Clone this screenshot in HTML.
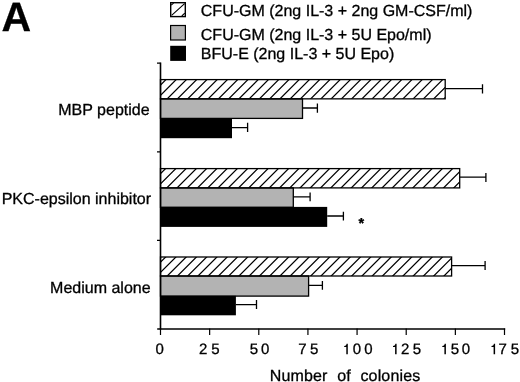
<!DOCTYPE html>
<html><head><meta charset="utf-8">
<style>
html,body{margin:0;padding:0;background:#fff;}
body{width:520px;height:382px;overflow:hidden;}
svg{display:block;}
svg{filter:grayscale(1);}
text{font-family:"Liberation Sans",sans-serif;fill:#000;stroke:#000;stroke-width:0.3px;text-rendering:geometricPrecision;}
</style></head><body>
<svg width="520" height="382" viewBox="0 0 520 382">
<rect width="520" height="382" fill="#fff"/>
<text x="1.6" y="30.5" font-size="41" font-weight="bold">A</text>
<rect x="170.7" y="2.7" width="14.6" height="13.9" fill="#fff" stroke="#000" stroke-width="1.4"/>
<path d="M171.6 15.4L184.6 3.6M171.2 5.2L173.6 3.2M181.8 16L184.8 13.2" stroke="#000" stroke-width="1.1" fill="none"/>
<rect x="170.6" y="25.5" width="14.8" height="14.5" fill="#b3b3b3" stroke="#000" stroke-width="1.2"/>
<rect x="170.2" y="45.8" width="15.8" height="15.1" fill="#000"/>
<text id="l1" x="200.8" y="15.9" font-size="16">CFU-GM (2ng IL-3 + 2ng GM-CSF/ml)</text>
<text id="l2" x="200.8" y="39.5" font-size="16">CFU-GM (2ng IL-3 + 5U Epo/ml)</text>
<text id="l3" x="200.8" y="59.1" font-size="16">BFU-E (2ng IL-3 + 5U Epo)</text>
<defs>
<clipPath id="c0"><rect x="160.5" y="79.6" width="284.70" height="19.25"/></clipPath>
<clipPath id="c1"><rect x="160.5" y="168.6" width="299.20" height="19.30"/></clipPath>
<clipPath id="c2"><rect x="160.5" y="257.0" width="291.10" height="19.00"/></clipPath>
</defs>
<path clip-path="url(#c0)" d="M135.45 99.85L156.70 78.60M145.70 99.85L166.95 78.60M155.95 99.85L177.20 78.60M166.20 99.85L187.45 78.60M176.45 99.85L197.70 78.60M186.70 99.85L207.95 78.60M196.95 99.85L218.20 78.60M207.20 99.85L228.45 78.60M217.45 99.85L238.70 78.60M227.70 99.85L248.95 78.60M237.95 99.85L259.20 78.60M248.20 99.85L269.45 78.60M258.45 99.85L279.70 78.60M268.70 99.85L289.95 78.60M278.95 99.85L300.20 78.60M289.20 99.85L310.45 78.60M299.45 99.85L320.70 78.60M309.70 99.85L330.95 78.60M319.95 99.85L341.20 78.60M330.20 99.85L351.45 78.60M340.45 99.85L361.70 78.60M350.70 99.85L371.95 78.60M360.95 99.85L382.20 78.60M371.20 99.85L392.45 78.60M381.45 99.85L402.70 78.60M391.70 99.85L412.95 78.60M401.95 99.85L423.20 78.60M412.20 99.85L433.45 78.60M422.45 99.85L443.70 78.60M432.70 99.85L453.95 78.60M442.95 99.85L464.20 78.60" stroke="#000" stroke-width="1.25" fill="none"/>
<rect x="160.5" y="98.85" width="142.00" height="19.55" fill="#b3b3b3" stroke="#000" stroke-width="1.3"/>
<rect x="160.5" y="79.6" width="284.70" height="19.25" fill="none" stroke="#000" stroke-width="1.3"/>
<rect x="160.5" y="118.0" width="71.50" height="20.20" fill="#000"/>
<path clip-path="url(#c1)" d="M135.05 188.90L156.35 167.60M145.30 188.90L166.60 167.60M155.55 188.90L176.85 167.60M165.80 188.90L187.10 167.60M176.05 188.90L197.35 167.60M186.30 188.90L207.60 167.60M196.55 188.90L217.85 167.60M206.80 188.90L228.10 167.60M217.05 188.90L238.35 167.60M227.30 188.90L248.60 167.60M237.55 188.90L258.85 167.60M247.80 188.90L269.10 167.60M258.05 188.90L279.35 167.60M268.30 188.90L289.60 167.60M278.55 188.90L299.85 167.60M288.80 188.90L310.10 167.60M299.05 188.90L320.35 167.60M309.30 188.90L330.60 167.60M319.55 188.90L340.85 167.60M329.80 188.90L351.10 167.60M340.05 188.90L361.35 167.60M350.30 188.90L371.60 167.60M360.55 188.90L381.85 167.60M370.80 188.90L392.10 167.60M381.05 188.90L402.35 167.60M391.30 188.90L412.60 167.60M401.55 188.90L422.85 167.60M411.80 188.90L433.10 167.60M422.05 188.90L443.35 167.60M432.30 188.90L453.60 167.60M442.55 188.90L463.85 167.60M452.80 188.90L474.10 167.60" stroke="#000" stroke-width="1.25" fill="none"/>
<rect x="160.5" y="187.9" width="132.80" height="19.40" fill="#b3b3b3" stroke="#000" stroke-width="1.3"/>
<rect x="160.5" y="168.6" width="299.20" height="19.30" fill="none" stroke="#000" stroke-width="1.3"/>
<rect x="160.5" y="206.9" width="166.70" height="20.00" fill="#000"/>
<path clip-path="url(#c2)" d="M135.45 277.00L156.45 256.00M145.70 277.00L166.70 256.00M155.95 277.00L176.95 256.00M166.20 277.00L187.20 256.00M176.45 277.00L197.45 256.00M186.70 277.00L207.70 256.00M196.95 277.00L217.95 256.00M207.20 277.00L228.20 256.00M217.45 277.00L238.45 256.00M227.70 277.00L248.70 256.00M237.95 277.00L258.95 256.00M248.20 277.00L269.20 256.00M258.45 277.00L279.45 256.00M268.70 277.00L289.70 256.00M278.95 277.00L299.95 256.00M289.20 277.00L310.20 256.00M299.45 277.00L320.45 256.00M309.70 277.00L330.70 256.00M319.95 277.00L340.95 256.00M330.20 277.00L351.20 256.00M340.45 277.00L361.45 256.00M350.70 277.00L371.70 256.00M360.95 277.00L381.95 256.00M371.20 277.00L392.20 256.00M381.45 277.00L402.45 256.00M391.70 277.00L412.70 256.00M401.95 277.00L422.95 256.00M412.20 277.00L433.20 256.00M422.45 277.00L443.45 256.00M432.70 277.00L453.70 256.00M442.95 277.00L463.95 256.00" stroke="#000" stroke-width="1.25" fill="none"/>
<rect x="160.5" y="276.0" width="148.10" height="20.10" fill="#b3b3b3" stroke="#000" stroke-width="1.3"/>
<rect x="160.5" y="257.0" width="291.10" height="19.00" fill="none" stroke="#000" stroke-width="1.3"/>
<rect x="160.5" y="295.8" width="75.40" height="19.50" fill="#000"/>
<path d="M445.3 88.7H482.5M482.5 84.2V93.4M302.5 108.0H317.4M317.4 103.4V112.8M232 127.6H247.6M247.6 122.8V132.0M459.7 177.2H485.9M485.9 173V182M293.3 196.8H310.1M310.1 192.4V201.2M327.2 216.0H343.4M343.4 211.7V220.6M451.6 265.7H485.1M485.1 261V270.1M308.6 285.3H322.4M322.4 281V289.7M235.9 304.6H256.5M256.5 300V309" stroke="#000" stroke-width="1.3" fill="none"/>
<text id="ast" x="358.5" y="227.9" font-size="14.5" font-weight="bold" stroke="none">*</text>
<g stroke="#000" stroke-width="1.6" fill="none">
<path d="M160.5 62.4V329.6"/>
<path d="M157.2 329H505.2"/>
</g><g stroke="#000" stroke-width="1.2" fill="none">
<path d="M157 63.1H160.5M157 151.8H160.5M157 240.4H160.5"/>
<path d="M160.50 328.6V334.9M209.64 328.6V334.9M258.79 328.6V334.9M307.93 328.6V334.9M357.07 328.6V334.9M406.21 328.6V334.9M455.36 328.6V334.9M504.50 328.6V334.9"/>
</g>
<g font-size="15">
<text x="155.46" y="354.3">0</text>
<text x="199.00" y="354.3">2</text>
<text x="211.15" y="354.3">5</text>
<text x="249.65" y="354.3">5</text>
<text x="261.06" y="354.3">0</text>
<text x="298.28" y="354.3">7</text>
<text x="310.05" y="354.3">5</text>
<path transform="translate(344.20 354.3)" d="M0 -7.3V-8.3C1.3 -8.4 2.2 -9.1 2.4 -10.6H3.6V0H2.1V-7.3Z" fill="#000"/>
<text x="352.66" y="354.3">0</text>
<text x="364.16" y="354.3">0</text>
<path transform="translate(393.00 354.3)" d="M0 -7.3V-8.3C1.3 -8.4 2.2 -9.1 2.4 -10.6H3.6V0H2.1V-7.3Z" fill="#000"/>
<text x="401.00" y="354.3">2</text>
<text x="412.75" y="354.3">5</text>
<path transform="translate(442.30 354.3)" d="M0 -7.3V-8.3C1.3 -8.4 2.2 -9.1 2.4 -10.6H3.6V0H2.1V-7.3Z" fill="#000"/>
<text x="450.65" y="354.3">5</text>
<text x="461.86" y="354.3">0</text>
<path transform="translate(491.50 354.3)" d="M0 -7.3V-8.3C1.3 -8.4 2.2 -9.1 2.4 -10.6H3.6V0H2.1V-7.3Z" fill="#000"/>
<text x="498.58" y="354.3">7</text>
<text x="510.65" y="354.3">5</text>
</g>
<text id="xl" x="269.8" y="381" font-size="16" letter-spacing="0.15" word-spacing="5">Number of colonies</text>
<g font-size="16" text-anchor="end">
<text id="c1" x="149.6" y="115">MBP peptide</text>
<text id="c2" x="151.1" y="204">PKC-epsilon inhibitor</text>
<text id="c3" x="150.6" y="293.1">Medium alone</text>
</g></svg></body></html>
